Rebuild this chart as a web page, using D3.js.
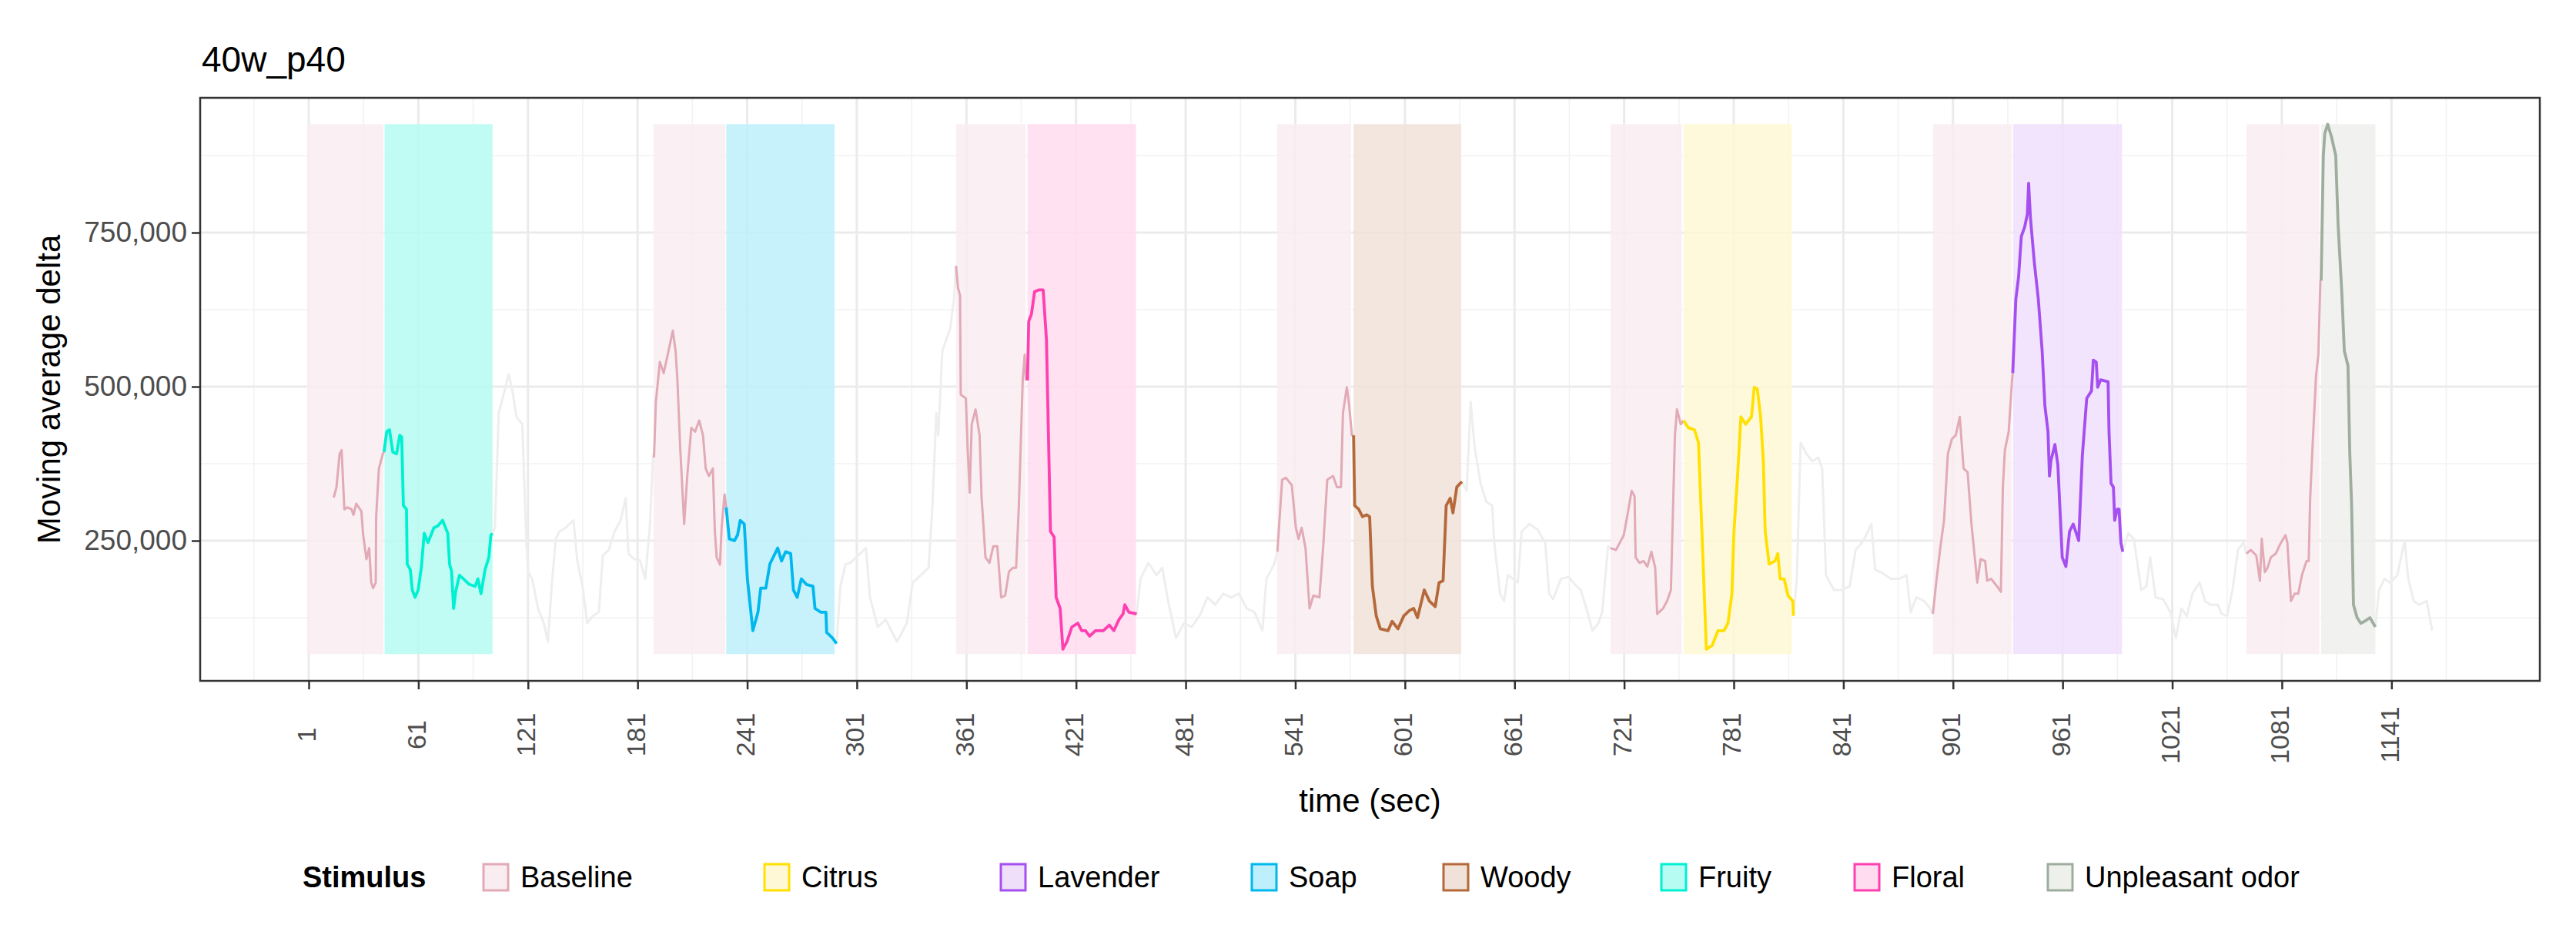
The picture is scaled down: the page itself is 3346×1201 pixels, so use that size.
<!DOCTYPE html>
<html><head><meta charset="utf-8">
<script src="https://cdn.jsdelivr.net/npm/d3@7"></script>
<style>body{margin:0;background:#fff}text{font-family:"Liberation Sans",Arial,sans-serif}</style>
</head><body><svg id="c" width="3346" height="1201"></svg>
<script>
// values in thousands
const stimuli = ["Baseline","Citrus","Lavender","Soap","Woody","Fruity","Floral","Unpleasant odor"];
const lineColors = {"Baseline":"#e1aab6","Citrus":"#ffe000","Lavender":"#a64ff0","Soap":"#00b8ee","Woody":"#b5693a","Fruity":"#00f0d2","Floral":"#ff3fb0","Unpleasant odor":"#9fad9f","none":"#eeeeee"};
const fillColors = {"Baseline":"#f9edf1","Citrus":"#fff8d6","Lavender":"#efdffb","Soap":"#bdf0fc","Woody":"#f0e2d8","Fruity":"#b6fcf2","Floral":"#ffdcf0","Unpleasant odor":"#eef0ec"};
const xTicks = [1,61,121,181,241,301,361,421,481,541,601,661,721,781,841,901,961,1021,1081,1141];
const yTicks = [250,500,750];
const periods = [
 ["Baseline",0.1,42],["Fruity",42.5,101.6],["Baseline",189.7,229],["Soap",229.5,288.8],
 ["Baseline",355.3,393.5],["Floral",394.4,453.8],["Baseline",531,571.5],["Woody",572.9,631.8],
 ["Baseline",713.5,752.6],["Citrus",753.5,812.9],["Baseline",890,933.2],["Lavender",933.9,993.5],
 ["Baseline",1061.6,1101.5],["Unpleasant odor",1102.5,1132.2]];
const baseline1=[[14.7,320],[16.2,337],[17.9,391],[19,397],[20.5,301],[22.2,304],[24.4,301],[25.5,292],[27,310],[29.8,298],[30.8,259],[32.6,220],[34.1,238],[35.2,182],[36.2,173],[37.7,182],[37.9,289],[39.4,367],[41.6,391],[42.2,394]];
const fruity=[[42.2,394],[43.7,427],[45.2,430],[47,394],[49.1,391],[50.8,421],[51.9,418],[52.8,307],[54.5,301],[54.9,212],[56.6,203],[57.7,170],[59.2,158],[60.9,170],[62.7,208],[64.2,262],[66.3,247],[69.5,271],[71.7,274],[74.3,283],[77.1,262],[78.1,212],[79.2,200],[80.3,140],[81.4,167],[83.5,194],[85.7,188],[88.9,179],[92.1,176],[93.6,188],[95.3,164],[97.5,203],[99.6,223],[100.7,259],[101.6,262]];
const gap1=[[101.6,262],[102.9,271],[105,457],[108.2,493],[110.4,520],[112.5,493],[114.7,451],[117.9,439],[120.1,247],[121.1,200],[123.3,188],[126.5,140],[129.7,116],[131.9,86],[134,176],[136.2,253],[138.3,265],[141.6,271],[145.9,283],[148,218],[151.2,170],[153.4,116],[156.6,128],[159.8,134],[162,226],[165.2,235],[168.4,265],[171.7,283],[174.5,319],[176,229],[179.2,220],[182.4,218],[185.2,188],[187.8,277],[189.5,391]];
const baseline2=[[190,385],[191,475],[193.2,540],[195.3,522],[197.5,552],[200.3,591],[201.8,558],[202.8,511],[204.3,403],[206.5,277],[208.2,355],[210.4,433],[212.5,427],[214.7,445],[216.8,421],[218.3,367],[220,355],[222.2,367],[223.3,265],[224.3,223],[226.1,211],[227,271],[228.6,325],[229.5,304]];
const soap=[[229.5,304],[231.2,253],[234,250],[235.7,259],[237.2,283],[239.4,277],[241.1,188],[242.6,146],[244.1,104],[246.9,134],[248.4,173],[251.2,173],[253.4,212],[257.7,238],[259.8,217],[262,232],[264.8,229],[266.3,170],[268.4,158],[270.6,188],[273.4,179],[277,176],[278.1,140],[281.3,134],[284.1,134],[284.5,101],[287.7,92],[289.9,83]];
const gap2=[[289.9,83],[292,176],[294.9,212],[297.4,214],[302.8,229],[306,238],[308.2,158],[312.5,110],[316.8,122],[323,86],[328.4,116],[331.6,182],[336,194],[340.3,206],[342.4,307],[344.5,457],[345.6,421],[347.8,558],[349.9,576],[352.1,594],[354.2,642],[355.3,696]];
const baseline3=[[355.3,696],[356.4,660],[357.5,648],[357.9,487],[360.7,481],[361.7,397],[362.8,328],[363.9,439],[366,463],[368.2,421],[369.3,319],[370.4,271],[371.4,223],[373.6,214],[375.7,241],[377.9,241],[380,158],[382.2,161],[384.3,200],[386.5,206],[388.2,206],[389.7,307],[391.8,510],[392.9,552],[393.6,510]];
const floral=[[394.4,510],[395.1,606],[396.6,618],[398.3,654],[400.5,657],[403,657],[404.8,576],[407,265],[409,256],[410.1,158],[412.3,140],[413.8,74],[416,86],[418.7,110],[422,116],[424.1,104],[426.2,104],[428.4,95],[431.6,104],[435.9,104],[439.2,113],[441.7,104],[444.5,122],[446.7,131],[447.7,146],[449.9,134],[454.2,131]];
const gap3=[[454.2,131],[456.3,188],[460.6,214],[465,194],[468.2,206],[471.4,152],[475.7,92],[480,116],[484.3,110],[488.6,128],[492.9,158],[497.2,146],[501.5,164],[505.8,158],[510.1,164],[514.4,140],[518.7,134],[523,104],[525.2,188],[529.4,212],[531.2,232]];
const baseline4=[[531.2,232],[533.8,349],[535.9,352],[539.1,340],[541.3,271],[542.8,253],[544.5,271],[546.6,238],[548.8,140],[550.9,161],[554.2,158],[556.3,241],[558.5,349],[561.7,355],[563.8,337],[566,337],[567.1,457],[569.2,499],[570.3,475],[572,421],[572.9,421]];
const woody=[[572.9,421],[573.5,307],[575.7,301],[577.8,289],[580,292],[581.7,289],[583.2,176],[585.3,128],[587.5,107],[591.8,104],[594,119],[597.2,107],[600.4,128],[603.6,137],[605.8,140],[607.9,125],[611.6,170],[614.4,152],[617.6,143],[619.7,182],[621.9,185],[623.6,307],[625.8,319],[627.3,295],[629.4,337],[632.2,346]];
const gap4=[[632.2,346],[634.8,331],[637,475],[639.1,403],[642.4,343],[645.6,313],[648.8,307],[649.9,247],[653.1,164],[655.3,152],[657.4,194],[662.8,182],[664.9,265],[669.2,277],[673.6,268],[677.8,247],[680,164],[682.1,155],[686.4,188],[690.7,191],[694,179],[697.2,170],[700.4,140],[703.6,104],[706.9,116],[709,134],[712.2,241],[713.5,238]];
const baseline5=[[713.5,238],[716.5,235],[718.7,247],[720.8,259],[723,295],[725.1,331],[726.7,322],[727.3,223],[729.4,214],[731.6,217],[733.7,208],[735.9,232],[738,206],[739.1,131],[742.3,140],[744.5,152],[746.6,170],[748.8,421],[749.9,463],[752,439],[753.5,445]];
const citrus=[[753.5,445],[756.3,433],[759.5,430],[761.7,409],[763.8,247],[766,74],[769.2,80],[772.4,104],[775.7,104],[777.8,116],[780,164],[781,259],[783.2,361],[784.9,451],[787.5,439],[790.7,451],[792.2,499],[793.9,496],[795.7,451],[797.2,379],[798.2,265],[800.4,212],[803.6,217],[805.1,229],[806.4,188],[808.6,188],[810.7,161],[813.3,152],[813.7,128]];
const gap5=[[813.7,128],[815.5,188],[817.6,409],[820.8,391],[824,379],[827.3,385],[829.4,367],[831.5,194],[835.8,170],[840.2,170],[844.5,176],[847.7,235],[852,250],[856.3,277],[858.4,203],[862.7,197],[867,188],[871.3,188],[875.6,194],[877.8,134],[881,158],[885.3,152],[888.5,140],[890,131]];
const baseline6=[[890,131],[891.8,182],[893.9,235],[896.1,283],[898.2,391],[900.4,415],[902.5,421],[904.7,451],[906.8,367],[909,361],[911.1,277],[913.3,212],[914.3,182],[916.1,220],[918.6,217],[919.7,185],[921.9,188],[925.1,176],[927.2,167],[928.3,337],[929.4,397],[931.5,427],[933.3,510],[933.7,522]];
const lavender=[[933.7,522],[935.4,642],[936.9,678],[938.4,744],[940.2,759],[941.7,780],[942.4,830],[943.4,774],[945.5,702],[947.7,642],[949.8,558],[951.3,469],[953,427],[953.8,355],[954.6,380],[956.8,406],[958.4,373],[960.8,223],[962.8,208],[964.8,265],[966.8,277],[969.8,250],[971.8,388],[974.2,481],[976.8,493],[977.8,543],[979.4,540],[980.2,499],[981.8,511],[985.9,508],[986.4,427],[987.5,343],[988.8,337],[989.5,283],[990.9,301],[991.9,301],[992.9,247],[993.9,232]];
const gap6=[[993.9,232],[996.9,262],[1000,253],[1004,170],[1006.9,176],[1008.9,223],[1011.9,158],[1016,155],[1020,134],[1023,92],[1026,140],[1029,128],[1032,164],[1036,182],[1039,152],[1042,146],[1046,146],[1048,131],[1051,128],[1054,170],[1057,235],[1060,247],[1061.6,229]];
const baseline7=[[1061.6,229],[1064,235],[1067,226],[1069,185],[1070,253],[1071.7,199],[1073,205],[1075,223],[1077.7,229],[1080,244],[1083,259],[1084,247],[1086,152],[1088,164],[1090,164],[1092,194],[1094.5,217],[1095.7,217],[1096.5,319],[1098,415],[1099.7,517],[1101,552],[1102.1,672],[1102.5,672]];
const unpleasant=[[1102.5,672],[1103.7,875],[1104.5,911],[1106.1,926],[1108.2,905],[1110.5,875],[1111.8,762],[1113.8,654],[1115.2,558],[1117.2,534],[1118.2,391],[1119.2,307],[1120.2,146],[1122.2,125],[1124.2,116],[1126.2,119],[1129.2,125],[1132.2,110]];
const gap7=[[1132.2,110],[1134.2,170],[1137.2,188],[1140.2,182],[1144.2,194],[1148.2,250],[1150.2,188],[1153.2,152],[1156.2,146],[1160.3,152],[1163.3,104]];

const series=[["none",gap1],["none",gap2],["none",gap3],["none",gap4],["none",gap5],["none",gap6],["none",gap7],
 ["Baseline",baseline1],["Baseline",baseline2],["Baseline",baseline3],["Baseline",baseline4],["Baseline",baseline5],["Baseline",baseline6],["Baseline",baseline7],
 ["Fruity",fruity],["Soap",soap],["Floral",floral],["Woody",woody],["Citrus",citrus],["Lavender",lavender],["Unpleasant odor",unpleasant]];

const svg=d3.select("#c");
const L=260,R=3299,T=127,B=884;
const x=d3.scaleLinear().domain([-58.42,1222.2]).range([L,R]);
const y=d3.scaleLinear().domain([22.5,968.75]).range([B,T]);
const g=svg.append("g");
g.append("rect").attr("x",L).attr("y",T).attr("width",R-L).attr("height",B-T).attr("fill","#fff");
const minorX=xTicks.map(d=>d-30).concat([1171]);
g.selectAll(".mx").data(minorX).enter().append("line").attr("x1",d=>x(d)).attr("x2",d=>x(d)).attr("y1",T).attr("y2",B).attr("stroke","#f2f2f2").attr("stroke-width",1.6);
g.selectAll(".my").data([125,375,625,875]).enter().append("line").attr("y1",d=>y(d)).attr("y2",d=>y(d)).attr("x1",L).attr("x2",R).attr("stroke","#f2f2f2").attr("stroke-width",1.6);
g.selectAll(".Mx").data(xTicks).enter().append("line").attr("x1",d=>x(d)).attr("x2",d=>x(d)).attr("y1",T).attr("y2",B).attr("stroke","#ebebeb").attr("stroke-width",3);
g.selectAll(".My").data(yTicks).enter().append("line").attr("y1",d=>y(d)).attr("y2",d=>y(d)).attr("x1",L).attr("x2",R).attr("stroke","#ebebeb").attr("stroke-width",3);
g.selectAll(".pr").data(periods).enter().append("rect").attr("x",d=>x(d[1])).attr("width",d=>x(d[2])-x(d[1])).attr("y",y(926)).attr("height",y(66)-y(926)).attr("fill",d=>fillColors[d[0]]).attr("opacity",0.85);
const line=d3.line().x(d=>x(d[0])).y(d=>y(d[1]));
series.forEach(([s,data])=>{g.append("path").attr("d",line(data)).attr("fill","none").attr("stroke",lineColors[s]).attr("stroke-width",s==="none"||s==="Baseline"?3:3.8).attr("stroke-linejoin","round");});
g.append("rect").attr("x",L).attr("y",T).attr("width",R-L).attr("height",B-T).attr("fill","none").attr("stroke","#333").attr("stroke-width",2.5);
// axes
const xa=svg.append("g").attr("transform",`translate(0,${B})`).call(d3.axisBottom(x).tickValues(xTicks).tickSize(11).tickPadding(0).tickFormat(d3.format("d")));
xa.select(".domain").remove();
xa.selectAll("line").attr("stroke","#333").attr("stroke-width",2.5);
xa.selectAll("text").attr("font-size",34).attr("fill","#4d4d4d").attr("text-anchor","middle").attr("dy",null).attr("transform","translate(0,70) rotate(-90)").attr("y",0).attr("dominant-baseline","middle");
const ya=svg.append("g").attr("transform",`translate(${L},0)`).call(d3.axisLeft(y).tickValues(yTicks).tickSize(11).tickPadding(6).tickFormat(d=>d3.format(",")(d*1000)));
ya.select(".domain").remove();
ya.selectAll("line").attr("stroke","#333").attr("stroke-width",2.5);
ya.selectAll("text").attr("font-size",37).attr("fill","#4d4d4d");
svg.append("text").attr("x",262).attr("y",93).attr("font-size",46).text("40w_p40");
svg.append("text").attr("transform",`translate(78,${(T+B)/2}) rotate(-90)`).attr("text-anchor","middle").attr("font-size",42).text("Moving average delta");
svg.append("text").attr("x",(L+R)/2).attr("y",1054).attr("text-anchor","middle").attr("font-size",42).text("time (sec)");
// legend
const lg=svg.append("g");
lg.append("text").attr("x",393).attr("y",1152).attr("font-size",38).attr("font-weight","bold").text("Stimulus");
const legX=[626,991,1298,1624,1873,2156,2407,2658];
stimuli.forEach((s,i)=>{
 lg.append("rect").attr("x",legX[i]+2).attr("y",1122).attr("width",32).attr("height",34).attr("fill",fillColors[s]).attr("stroke",lineColors[s]).attr("stroke-width",3);
 lg.append("text").attr("x",legX[i]+50).attr("y",1152).attr("font-size",38).text(s);
});
</script></body></html>
